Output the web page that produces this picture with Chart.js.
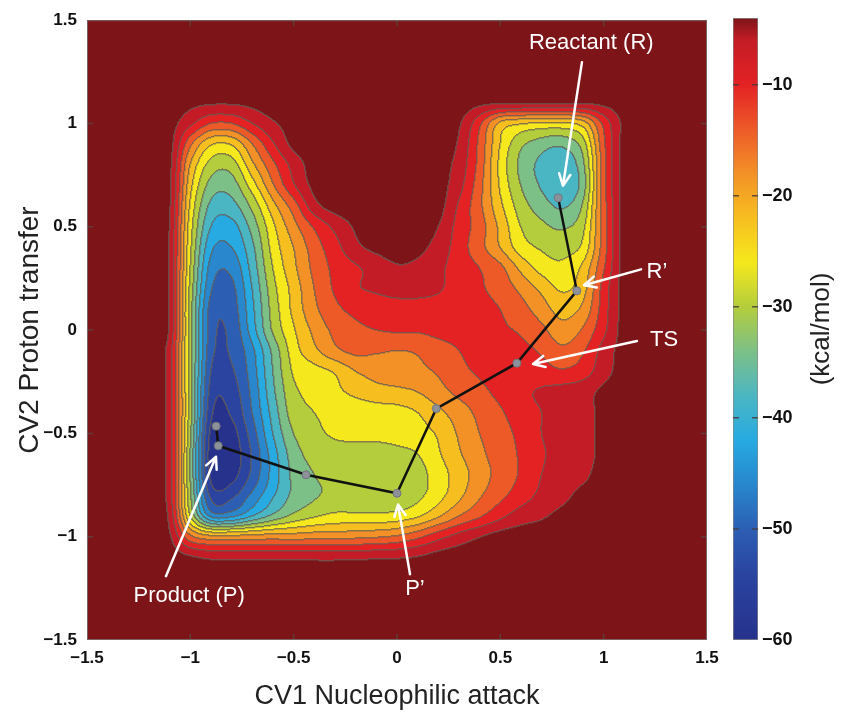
<!DOCTYPE html>
<html>
<head>
<meta charset="utf-8">
<title>Free energy surface</title>
<script src="https://cdn.jsdelivr.net/npm/chart.js@4.4.1/dist/chart.umd.min.js"></script>
<style>
  body { margin: 0; background: #fff; }
  #wrap { position: relative; width: 847px; height: 715px; }
  canvas { position: absolute; top: 0; }
  #surface { left: 0; }
  #colorbar { left: 720px; }
</style>
</head>
<body>
<div id="wrap">
  <canvas id="surface" width="847" height="715"></canvas>
  <canvas id="colorbar" width="127" height="715"></canvas>
</div>
<script>
// grid of the map: CV1 along the columns, CV2 along the rows (top to bottom)
const cv1Grid = [-1.5, -1.4, -1.3, -1.2, -1.1, -1.0, -0.9, -0.8, -0.7, -0.6, -0.5, -0.4, -0.3, -0.2, -0.1, 0,
  0.1, 0.2, 0.3, 0.4, 0.5, 0.6, 0.7, 0.8, 0.9, 1.0, 1.1, 1.2, 1.3, 1.4, 1.5];
const cv2Grid = [1.5, 1.4, 1.3, 1.2, 1.1, 1.0, 0.9, 0.8, 0.7, 0.6, 0.5, 0.4, 0.3, 0.2, 0.1, 0,
  -0.1, -0.2, -0.3, -0.4, -0.5, -0.6, -0.7, -0.8, -0.9, -1.0, -1.1, -1.2, -1.3, -1.4, -1.5];

// free energy (kcal/mol), one row per cv2Grid value
const energy = [
  [-2,-2,-2,-2,-2,-2,-2,-2,-2,-2,-2,-2,-2,-2,-2,-2,-2,-2,-2,-2,-2,-2,-2,-2,-2,-2,-2,-2,-2,-2,-2],
  [-2,-2,-2,-2,-2,-2,-2,-2,-2,-2,-2,-2,-2,-2,-2,-2,-2,-2,-2,-2,-2,-2,-2,-2,-2,-2,-2,-2,-2,-2,-2],
  [-2,-2,-2,-2,-2,-2,-2,-2,-2,-2,-2,-2,-2,-2,-2,-2,-2,-2,-2,-2,-2,-2,-2,-2,-2,-2,-2,-2,-2,-2,-2],
  [-2,-2,-2,-2,-2,-2,-2,-2,-2,-2,-2,-2,-2,-2,-2,-2,-2,-2,-2,-2,-2,-2,-2,-2,-2,-2,-2,-2,-2,-2,-2],
  [-2,-2,-2,-2,-2,-3,-3.5,-3.5,-3,-2,-2,-2,-2,-2,-2,-2,-2,-2,-2,-3,-3.5,-3.5,-3.5,-3.5,-3.5,-3,-2,-2,-2,-2,-2],
  [-2,-2,-2,-2,-2.5,-7,-12,-12,-8,-4.5,-2.5,-2,-2,-2,-2,-2,-2,-2,-3.5,-11,-21,-23.5,-24.5,-24.5,-22,-11,-3,-2,-2,-2,-2],
  [-2,-2,-2,-2,-2.5,-15,-23.5,-23.5,-16,-8.5,-3,-2,-2,-2,-2,-2,-2,-2,-4.5,-13,-24,-31,-34,-35,-30,-13,-2.5,-2,-2,-2,-2],
  [-2,-2,-2,-2,-3,-20,-29.5,-30,-21,-13,-6.5,-2.3,-2,-2,-2,-2,-2,-2.5,-5.5,-13.5,-25,-33,-37,-39,-33,-14,-2.5,-2,-2,-2,-2],
  [-2,-2,-2,-2,-3,-22.5,-33.5,-34,-26,-16.5,-8.5,-3,-2,-2,-2,-2,-2,-2.5,-6.5,-14.5,-24.5,-32,-36.5,-39.5,-34,-14,-2.5,-2,-2,-2,-2],
  [-2,-2,-2,-2,-3.5,-24.5,-37,-37.5,-31,-21.5,-14,-5.5,-2.5,-2,-2,-2,-2,-2.5,-8.5,-15,-23,-30,-34,-36.5,-31.5,-14,-2.5,-2,-2,-2,-2],
  [-2,-2,-2,-2,-4,-26,-40,-41.5,-34.5,-25,-17.5,-11.5,-7,-3.5,-2,-2,-2,-4,-9.5,-14,-21,-28,-31,-32.5,-29,-14,-2.5,-2,-2,-2,-2],
  [-2,-2,-2,-2,-4.5,-27,-43,-44,-37,-26.5,-20,-14,-9.5,-5,-3,-2,-3,-5.5,-10,-14.5,-20,-26,-28.5,-29.5,-27,-14,-2.5,-2,-2,-2,-2],
  [-2,-2,-2,-2,-4.5,-28,-45.5,-47,-38.5,-28,-21,-15,-11,-8.5,-6.5,-4.5,-5,-7,-10,-12,-15,-21,-25.5,-27,-23,-12.5,-2.5,-2,-2,-2,-2],
  [-2,-2,-2,-2,-4.5,-29,-47.5,-49,-40,-29.5,-22.5,-16,-11.5,-8.5,-7.5,-6.7,-6.7,-7.5,-10,-11.5,-13.5,-17,-21,-24.5,-21.5,-10.5,-2.5,-2,-2,-2,-2],
  [-2,-2,-2,-2,-4.5,-30,-49.5,-50,-41,-30.5,-23,-17,-13,-11,-10,-9.5,-9.5,-10,-10.5,-11,-12,-14.5,-18,-21.5,-19,-10,-2.5,-2,-2,-2,-2],
  [-2,-2,-2,-2,-4.5,-30,-50,-51,-42,-31.5,-24.5,-19,-15,-13,-12,-11.5,-11.5,-11,-11,-11,-11.5,-12.5,-15,-18.5,-15.5,-9,-2.5,-2,-2,-2,-2],
  [-2,-2,-2,-2,-6,-30,-50.5,-51.5,-45,-35,-26,-21,-17,-15,-15.5,-16,-15.5,-13.5,-12,-11,-10.5,-11,-12.5,-15,-12.5,-6.5,-2.5,-2,-2,-2,-2],
  [-2,-2,-2,-2,-6,-30,-52,-52.5,-46,-36,-27.5,-25.5,-23.5,-20,-18.5,-17.5,-17,-15.5,-13,-11.5,-10.5,-10,-10.5,-11.5,-10,-5.5,-2.5,-2,-2,-2,-2],
  [-2,-2,-2,-2,-6,-30,-53.5,-54,-47,-37,-29,-27,-25,-23,-21.5,-21,-20,-17.5,-15,-13,-11,-9,-7.5,-6.5,-5.5,-3.2,-2,-2,-2,-2,-2],
  [-2,-2,-2,-2,-6,-30,-55,-55.5,-48,-38.5,-30,-28,-27,-26.5,-26,-25.5,-24,-21,-18,-15,-12.5,-10,-8,-6.5,-5.5,-3,-2,-2,-2,-2,-2],
  [-2,-2,-2,-2,-6,-31,-57,-57.5,-50,-40,-32,-29,-27.5,-27,-27,-26.5,-25.5,-23.5,-19.5,-16,-13.5,-11,-8,-6.5,-5.5,-3,-2,-2,-2,-2,-2],
  [-2,-2,-2,-2,-6,-32,-58,-58.5,-51.5,-42,-34,-30.5,-29.5,-29.5,-29.5,-29,-28,-24.5,-20.5,-17,-14,-11.5,-8.5,-6.5,-5.5,-3,-2,-2,-2,-2,-2],
  [-2,-2,-2,-2,-6,-32,-57,-57.5,-51,-42.5,-35,-32,-30.5,-30.5,-30.5,-30.5,-29.5,-26,-22,-18,-14.5,-11.5,-8,-6,-4.8,-2.5,-2,-2,-2,-2,-2],
  [-2,-2,-2,-2,-6,-31,-53,-53,-47,-40.5,-35,-32.5,-31,-31,-31,-31,-29,-25.5,-21,-16.5,-13,-10,-7,-5,-3,-2,-2,-2,-2,-2,-2],
  [-2,-2,-2,-2,-5,-28,-45,-45,-40,-35,-31,-28.5,-27,-27,-27,-26.5,-24.5,-20.5,-16,-12.5,-9,-6,-4.5,-3,-2,-2,-2,-2,-2,-2,-2],
  [-2,-2,-2,-2,-3.5,-15,-19,-19,-18.5,-18,-18,-17.5,-17.5,-17,-16.5,-15.5,-13,-9.5,-6.5,-4.2,-2.5,-2,-2,-2,-2,-2,-2,-2,-2,-2,-2],
  [-2,-2,-2,-2,-2,-3.5,-4.8,-5,-5,-5,-5,-5,-5,-4.8,-4.6,-4.4,-3.8,-2.5,-2,-2,-2,-2,-2,-2,-2,-2,-2,-2,-2,-2,-2],
  [-2,-2,-2,-2,-2,-2,-2,-2,-2,-2,-2,-2,-2,-2,-2,-2,-2,-2,-2,-2,-2,-2,-2,-2,-2,-2,-2,-2,-2,-2,-2],
  [-2,-2,-2,-2,-2,-2,-2,-2,-2,-2,-2,-2,-2,-2,-2,-2,-2,-2,-2,-2,-2,-2,-2,-2,-2,-2,-2,-2,-2,-2,-2],
  [-2,-2,-2,-2,-2,-2,-2,-2,-2,-2,-2,-2,-2,-2,-2,-2,-2,-2,-2,-2,-2,-2,-2,-2,-2,-2,-2,-2,-2,-2,-2],
  [-2,-2,-2,-2,-2,-2,-2,-2,-2,-2,-2,-2,-2,-2,-2,-2,-2,-2,-2,-2,-2,-2,-2,-2,-2,-2,-2,-2,-2,-2,-2]
];

const contourLevels = [-56, -52, -48, -44, -40, -36, -32, -28, -24, -20, -16, -12, -8, -4];
const axisTicks = [-1.5, -1, -0.5, 0, 0.5, 1, 1.5];
const energyTicks = [-60, -50, -40, -30, -20, -10];
const energyRange = [-60, -4];

// minimum energy path R -> R' -> TS -> ... -> P' -> P
const pathCv1 = [0.78, 0.87, 0.58, 0.19, 0.0, -0.44, -0.865, -0.875];
const pathCv2 = [0.64, 0.19, -0.16, -0.38, -0.79, -0.70, -0.56, -0.465];

const labelNames = ['Reactant (R)', 'R\u2019', 'TS', 'Product (P)', 'P\u2019'];
const labelCv1 = [0.94, 1.258, 1.292, -1.006, 0.087];
const labelCv2 = [1.389, 0.28, -0.048, -1.288, -1.254];
const arrowFromCv1 = [0.895, 1.181, 1.161, -1.118, 0.063];
const arrowFromCv2 = [1.297, 0.294, -0.053, -1.191, -1.182];
const arrowToCv1 = [0.803, 0.905, 0.658, -0.876, 0.005];
const arrowToCv2 = [0.699, 0.217, -0.164, -0.613, -0.844];

// one colour per band, lowest band first, last one is above the top level
const bandColors = [
  [38, 50, 140], [42, 68, 160], [44, 95, 180], [40, 135, 205], [38, 170, 225],
  [75, 182, 195], [125, 192, 135], [180, 205, 60], [245, 232, 28], [247, 190, 32],
  [243, 145, 38], [237, 90, 40], [228, 34, 36], [196, 28, 38], [125, 20, 24]
];

const fontFamily = "'Liberation Sans', Arial, Helvetica, sans-serif";
Chart.defaults.font.family = fontFamily;

const minus = v => (v < 0 ? '\u2212' + Math.abs(v) : String(v));

function gridValue(i, j) {
  i = Math.max(0, Math.min(cv1Grid.length - 1, i));
  j = Math.max(0, Math.min(cv2Grid.length - 1, j));
  return energy[j][i];
}

function cubic(p0, p1, p2, p3, t) {
  return p1 + 0.5 * t * (p2 - p0 + t * (2 * p0 - 5 * p1 + 4 * p2 - p3 + t * (3 * (p1 - p2) + p3 - p0)));
}

function energyAt(gx, gy) {
  const i = Math.floor(gx), j = Math.floor(gy);
  const tx = gx - i, ty = gy - j;
  const r = [];
  for (let m = -1; m <= 2; m++) {
    r.push(cubic(gridValue(i - 1, j + m), gridValue(i, j + m), gridValue(i + 1, j + m), gridValue(i + 2, j + m), tx));
  }
  return cubic(r[0], r[1], r[2], r[3], ty);
}

function bandOf(v) {
  let b = 0;
  while (b < contourLevels.length && v >= contourLevels[b]) b++;
  return b;
}

// filled contours, drawn pixel by pixel through the chart scales
const surfacePlugin = {
  id: 'surface',
  beforeDatasetsDraw(chart) {
    const { ctx, chartArea: a, scales: { x, y } } = chart;
    const left = Math.round(a.left), top = Math.round(a.top);
    const w = Math.round(a.right) - left, h = Math.round(a.bottom) - top;
    const dx = cv1Grid[1] - cv1Grid[0], dy = cv2Grid[1] - cv2Grid[0];
    const gx = [], gy = [];
    for (let i = 0; i < w; i++) gx.push((x.getValueForPixel(left + i + 0.5) - cv1Grid[0]) / dx);
    for (let j = 0; j < h; j++) gy.push((y.getValueForPixel(top + j + 0.5) - cv2Grid[0]) / dy);
    const bands = new Uint8Array(w * h);
    for (let j = 0; j < h; j++) {
      for (let i = 0; i < w; i++) bands[j * w + i] = bandOf(energyAt(gx[i], gy[j]));
    }
    const img = ctx.createImageData(w, h);
    const line = [100, 92, 84];
    for (let j = 0; j < h; j++) {
      for (let i = 0; i < w; i++) {
        const k = j * w + i, b = bands[k];
        let e = 0;
        if ((i + 1 < w && bands[k + 1] !== b) || (j + 1 < h && bands[k + w] !== b)) e = 0.75;
        else if ((i > 0 && bands[k - 1] !== b) || (j > 0 && bands[k - w] !== b)) e = 0.35;
        const c = bandColors[b];
        img.data[k * 4] = c[0] + (line[0] - c[0]) * e;
        img.data[k * 4 + 1] = c[1] + (line[1] - c[1]) * e;
        img.data[k * 4 + 2] = c[2] + (line[2] - c[2]) * e;
        img.data[k * 4 + 3] = 255;
      }
    }
    ctx.putImageData(img, left, top);
  }
};

// arrows, labels, frame and inside tick marks
const notesPlugin = {
  id: 'notes',
  afterDatasetsDraw(chart) {
    const { ctx, scales: { x, y } } = chart;
    ctx.save();
    ctx.strokeStyle = '#fff';
    ctx.fillStyle = '#fff';
    ctx.lineWidth = 2.5;
    ctx.lineCap = 'round';
    arrowFromCv1.forEach((_, i) => {
      const x0 = x.getPixelForValue(arrowFromCv1[i]), y0 = y.getPixelForValue(arrowFromCv2[i]);
      const x1 = x.getPixelForValue(arrowToCv1[i]), y1 = y.getPixelForValue(arrowToCv2[i]);
      const ang = Math.atan2(y1 - y0, x1 - x0);
      ctx.beginPath();
      ctx.moveTo(x0, y0);
      ctx.lineTo(x1, y1);
      [-1, 1].forEach(s => {
        ctx.moveTo(x1, y1);
        ctx.lineTo(x1 - 13 * Math.cos(ang + s * 0.45), y1 - 13 * Math.sin(ang + s * 0.45));
      });
      ctx.stroke();
    });
    ctx.font = '22px ' + fontFamily;
    ctx.textAlign = 'center';
    ctx.textBaseline = 'middle';
    labelNames.forEach((t, i) => {
      ctx.fillText(t, x.getPixelForValue(labelCv1[i]), y.getPixelForValue(labelCv2[i]));
    });
    ctx.restore();
  },
  afterDraw(chart) {
    const { ctx, chartArea: a, scales: { x, y } } = chart;
    ctx.save();
    ctx.strokeStyle = 'rgba(90,75,65,0.75)';
    ctx.lineWidth = 1.5;
    axisTicks.slice(1, -1).forEach(v => {
      const px = x.getPixelForValue(v), py = y.getPixelForValue(v);
      ctx.beginPath();
      ctx.moveTo(px, a.bottom); ctx.lineTo(px, a.bottom - 6);
      ctx.moveTo(px, a.top); ctx.lineTo(px, a.top + 6);
      ctx.moveTo(a.left, py); ctx.lineTo(a.left + 6, py);
      ctx.moveTo(a.right, py); ctx.lineTo(a.right - 6, py);
      ctx.stroke();
    });
    ctx.strokeStyle = 'rgba(120,120,120,0.8)';
    ctx.lineWidth = 1;
    ctx.strokeRect(a.left + 0.5, a.top + 0.5, a.right - a.left - 1, a.bottom - a.top - 1);
    ctx.restore();
  }
};

new Chart(document.getElementById('surface'), {
  type: 'scatter',
  data: {
    datasets: [{
      data: pathCv1.map((v, i) => ({ x: v, y: pathCv2[i] })),
      showLine: true,
      borderColor: '#111',
      borderWidth: 2.5,
      pointRadius: 4,
      pointBackgroundColor: '#8d929a',
      pointBorderColor: '#6f747b',
      pointBorderWidth: 1
    }]
  },
  options: {
    responsive: false,
    animation: false,
    devicePixelRatio: 1,
    events: [],
    layout: { padding: { top: 18, right: 140, left: 0, bottom: 0 } },
    plugins: { legend: { display: false }, tooltip: { enabled: false } },
    scales: {
      x: {
        type: 'linear', min: -1.5, max: 1.5,
        afterBuildTicks: s => { s.ticks = axisTicks.map(v => ({ value: v })); },
        afterFit: s => { s.height = 75; },
        grid: { display: false, drawTicks: false },
        border: { display: false },
        ticks: { font: { size: 17, weight: 'bold' }, color: '#111', padding: 8, maxRotation: 0, autoSkip: false, callback: minus },
        title: { display: true, text: 'CV1 Nucleophilic attack', font: { size: 27 }, color: '#222', padding: { top: 0, bottom: 2 } }
      },
      y: {
        type: 'linear', min: -1.5, max: 1.5,
        afterBuildTicks: s => { s.ticks = axisTicks.map(v => ({ value: v })); },
        afterFit: s => { s.width = 87; },
        grid: { display: false, drawTicks: false },
        border: { display: false },
        ticks: { font: { size: 17, weight: 'bold' }, color: '#111', padding: 10, autoSkip: false, callback: minus },
        title: { display: true, text: 'CV2 Proton transfer', font: { size: 28 }, color: '#222', padding: { top: 13, bottom: 0 } }
      }
    }
  },
  plugins: [surfacePlugin, notesPlugin]
});

// colour bar
function barGradient(chart) {
  const { ctx, chartArea, scales } = chart;
  if (!chartArea) return 'rgb(' + bandColors[bandColors.length - 1] + ')';
  const y = scales.y;
  const g = ctx.createLinearGradient(0, y.getPixelForValue(energyRange[0]), 0, y.getPixelForValue(energyRange[1]));
  const span = energyRange[1] - energyRange[0];
  bandColors.forEach((c, b) => {
    let v = contourLevels[b - 1] + 2;
    if (b === 0) v = energyRange[0];
    if (b === bandColors.length - 1) v = energyRange[1];
    g.addColorStop((v - energyRange[0]) / span, 'rgb(' + c + ')');
  });
  return g;
}

const barPlugin = {
  id: 'barDecor',
  afterDraw(chart) {
    const { ctx, chartArea: a, scales: { y } } = chart;
    ctx.save();
    ctx.strokeStyle = 'rgba(70,60,60,0.85)';
    ctx.lineWidth = 1.5;
    energyTicks.slice(1).forEach(v => {
      const p = y.getPixelForValue(v);
      ctx.beginPath();
      ctx.moveTo(a.left, p); ctx.lineTo(a.left + 6, p);
      ctx.moveTo(a.right, p); ctx.lineTo(a.right - 6, p);
      ctx.stroke();
    });
    ctx.translate(102, (a.top + a.bottom) / 2);
    ctx.rotate(-Math.PI / 2);
    ctx.font = '26px ' + fontFamily;
    ctx.fillStyle = '#222';
    ctx.textAlign = 'center';
    ctx.textBaseline = 'middle';
    ctx.fillText('(kcal/mol)', 0, 0);
    ctx.restore();
  }
};

new Chart(document.getElementById('colorbar'), {
  type: 'bar',
  data: {
    labels: [''],
    datasets: [{
      data: [energyRange],
      backgroundColor: c => barGradient(c.chart),
      borderColor: '#888',
      borderWidth: 1,
      borderSkipped: false,
      barPercentage: 1,
      categoryPercentage: 1
    }]
  },
  options: {
    responsive: false,
    animation: false,
    devicePixelRatio: 1,
    events: [],
    layout: { padding: { left: 13, top: 18, bottom: 75, right: 0 } },
    plugins: { legend: { display: false }, tooltip: { enabled: false } },
    scales: {
      x: { display: false },
      y: {
        position: 'right', min: energyRange[0], max: energyRange[1],
        afterBuildTicks: s => { s.ticks = energyTicks.map(v => ({ value: v })); },
        afterFit: s => { s.width = 89; },
        grid: { display: false, drawTicks: false },
        border: { display: false },
        ticks: { font: { size: 18, weight: 'bold' }, color: '#111', padding: 4, autoSkip: false, callback: minus }
      }
    }
  },
  plugins: [barPlugin]
});
</script>
</body>
</html>
